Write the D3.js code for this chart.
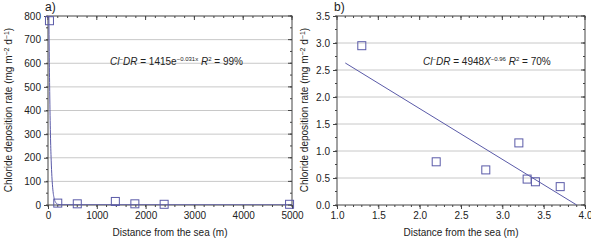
<!DOCTYPE html>
<html>
<head>
<meta charset="utf-8">
<script src="https://cdn.jsdelivr.net/npm/d3@7"></script>
<style>
body { margin: 0; background: #fff; }
text { font-family: "Liberation Sans", Arial, sans-serif; fill: #222; }
</style>
</head>
<body>
<div id="chart"></div>
<script>
// panel a data
const distA = [30, 200, 600, 1380, 1780, 2380, 4950];
const rateA = [780, 8, 5, 15, 5, 3, 3];
const fitA = [[18, 800], [25, 650], [35, 480], [50, 300], [65, 190], [80, 120], [100, 64], [130, 25], [160, 10], [200, 3], [300, 1], [5000, 0.5]];
const ticksAx = [0, 1000, 2000, 3000, 4000, 5000];
const ticksAy = [0, 100, 200, 300, 400, 500, 600, 700, 800];

// panel b data
const distB = [1.3, 2.2, 2.8, 3.2, 3.3, 3.4, 3.7];
const rateB = [2.95, 0.8, 0.65, 1.15, 0.48, 0.43, 0.34];
const fitB = [[1.1, 2.63], [3.9, 0.0]];
const ticksBx = [1.0, 1.5, 2.0, 2.5, 3.0, 3.5, 4.0];
const ticksBy = [0.0, 0.5, 1.0, 1.5, 2.0, 2.5, 3.0, 3.5];

const width = 591, height = 240;
const markColor = '#5a5aa8';

const svg = d3.select('#chart').append('svg')
    .attr('width', width)
    .attr('height', height);

function panel(opt) {
    let x = d3.scaleLinear().domain(opt.xDomain).range([opt.left, opt.right]);
    let y = d3.scaleLinear().domain(opt.yDomain).range([205, 16]);
    let g = svg.append('g');

    // grid
    g.selectAll('.grid').data(opt.yTicks.slice(1, -1)).enter()
        .append('line')
        .attr('x1', opt.left).attr('x2', opt.right)
        .attr('y1', d => y(d)).attr('y2', d => y(d))
        .style('stroke', '#c8c8c8').style('stroke-width', 1);

    // minor ticks
    let xMinor = d3.range(opt.xDomain[0], opt.xDomain[1] + 1e-9, opt.xMinor);
    let yMinor = d3.range(opt.yDomain[0], opt.yDomain[1] + 1e-9, opt.yMinor);

    let xAxis = d3.axisBottom(x).tickValues(opt.xTicks).tickFormat(opt.xFmt).tickSize(4).tickPadding(3);
    let yAxis = d3.axisLeft(y).tickValues(opt.yTicks).tickFormat(opt.yFmt).tickSize(4).tickPadding(3);

    let xg = g.append('g').attr('transform', 'translate(0,205)').call(xAxis);
    let yg = g.append('g').attr('transform', 'translate(' + opt.left + ',0)').call(yAxis);
    [xg, yg].forEach(a => {
        a.select('.domain').remove();
        a.selectAll('line').style('stroke', '#444');
        a.selectAll('text').style('font-size', '10px').style('fill', '#222');
    });

    xMinor.forEach(v => {
        g.append('line').attr('x1', x(v)).attr('x2', x(v)).attr('y1', 205).attr('y2', 207).style('stroke', '#444');
        g.append('line').attr('x1', x(v)).attr('x2', x(v)).attr('y1', 16).attr('y2', 18).style('stroke', '#444');
    });
    opt.xTicks.forEach(v => {
        g.append('line').attr('x1', x(v)).attr('x2', x(v)).attr('y1', 16).attr('y2', 20).style('stroke', '#444');
    });
    yMinor.forEach(v => {
        g.append('line').attr('x1', opt.left - 2).attr('x2', opt.left).attr('y1', y(v)).attr('y2', y(v)).style('stroke', '#444');
        g.append('line').attr('x1', opt.right - 2).attr('x2', opt.right).attr('y1', y(v)).attr('y2', y(v)).style('stroke', '#444');
    });
    opt.yTicks.forEach(v => {
        g.append('line').attr('x1', opt.right - 4).attr('x2', opt.right).attr('y1', y(v)).attr('y2', y(v)).style('stroke', '#444');
    });

    // frame
    g.append('rect')
        .attr('x', opt.left).attr('y', 16)
        .attr('width', opt.right - opt.left).attr('height', 189)
        .style('fill', 'none').style('stroke', '#444').style('stroke-width', 1);

    // fit line
    let clipId = 'clip' + opt.name;
    svg.append('clipPath').attr('id', clipId).append('rect')
        .attr('x', opt.left).attr('y', 16).attr('width', opt.right - opt.left).attr('height', 189);
    g.append('path')
        .datum(opt.fit)
        .attr('clip-path', 'url(#' + clipId + ')')
        .attr('d', d3.line().x(d => x(d[0])).y(d => y(d[1])).curve(d3.curveMonotoneX))
        .style('fill', 'none').style('stroke', markColor).style('stroke-width', 1);

    // points
    g.selectAll('.pt').data(opt.xs).enter()
        .append('rect')
        .attr('x', (d, i) => x(d) - 4)
        .attr('y', (d, i) => y(opt.ys[i]) - 4)
        .attr('width', 8).attr('height', 8)
        .style('fill', 'none').style('stroke', markColor).style('stroke-width', 1);

    // labels
    g.append('text').attr('x', opt.left - 3).attr('y', 11)
        .style('font-size', '12px').text(opt.name + ')');

    g.append('text')
        .attr('x', (opt.left + opt.right) / 2).attr('y', 236)
        .style('text-anchor', 'middle').style('font-size', '10px')
        .text('Distance from the sea (m)');

    let yl = g.append('text')
        .attr('transform', 'translate(' + opt.ylabX + ',110) rotate(-90)')
        .style('text-anchor', 'middle').style('font-size', '10px');
    yl.append('tspan').text('Chloride deposition rate (mg m');
    yl.append('tspan').attr('dy', -3).style('font-size', '7px').text('\u22122');
    yl.append('tspan').attr('dy', 3).text(' d');
    yl.append('tspan').attr('dy', -3).style('font-size', '7px').text('\u22121');
    yl.append('tspan').attr('dy', 3).text(')');

    // equation
    let eq = g.append('text').attr('x', opt.eqX).attr('y', 65).style('font-size', '10px');
    eq.append('tspan').style('font-style', 'italic').text('Cl');
    eq.append('tspan').attr('dy', -4).style('font-size', '6px').text('\u2212');
    eq.append('tspan').attr('dy', 4).style('font-style', 'italic').text('DR');
    eq.append('tspan').text(' = ' + opt.eqBase);
    if (opt.eqBaseItalic) eq.append('tspan').style('font-style', 'italic').text(opt.eqBaseItalic);
    eq.append('tspan').attr('dy', -4).style('font-size', '6px').text(opt.eqExp);
    eq.append('tspan').attr('dy', 4).text(' ');
    eq.append('tspan').style('font-style', 'italic').text('R');
    eq.append('tspan').attr('dy', -4).style('font-size', '6px').text('2');
    eq.append('tspan').attr('dy', 4).text(' = ' + opt.r2);
}

panel({
    name: 'a', left: 48, right: 292, ylabX: 12,
    xDomain: [0, 5000], yDomain: [0, 800],
    xTicks: ticksAx, yTicks: ticksAy, xMinor: 200, yMinor: 50,
    xFmt: d3.format('d'), yFmt: d3.format('d'),
    xs: distA, ys: rateA, fit: fitA,
    eqX: 110, eqBase: '1415e', eqExp: '\u22120.031x', r2: '99%'
});

panel({
    name: 'b', left: 337, right: 585, ylabX: 308,
    xDomain: [1, 4], yDomain: [0, 3.5],
    xTicks: ticksBx, yTicks: ticksBy, xMinor: 0.1, yMinor: 0.25,
    xFmt: d3.format('.1f'), yFmt: d3.format('.1f'),
    xs: distB, ys: rateB, fit: fitB,
    eqX: 423, eqBase: '4948', eqBaseItalic: 'X', eqExp: '\u22120.96', r2: '70%'
});
</script>
</body>
</html>
